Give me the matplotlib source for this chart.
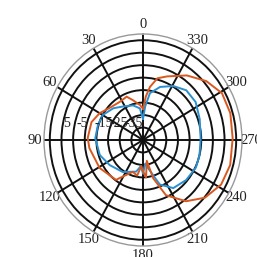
import numpy as np
import matplotlib
matplotlib.use('Agg')
import matplotlib.pyplot as plt

##########################################################
#          Pattern data (dB)       #
##########################################################

# orange trace: angle (deg, counter-clockwise from top) and level
orange_ang = [0, 5, 15, 22, 33, 48, 60, 72, 88, 98, 121, 144, 161, 170, 176, 180,
              185, 191, 196, 204, 217, 229, 242, 255, 271, 286, 299, 311, 324, 338, 346, 352, 356]
orange_db = [-20, -17, -12, -7.5, -8.5, -6.5, -2, 1.5, 2.5, 1.5, -1.5, -5.5, -18, -16, -24, -20,
             -15, -28, -13, 3.5, 16.5, 25.5, 31, 32.5, 32, 33, 32.5, 27, 19, 10, 6, -2, -10]

# blue trace
blue_ang = [0, 6, 17, 33, 45, 60, 73, 88, 108, 125, 146, 167, 175, 180, 186, 191,
            202, 214, 229, 244, 256, 271, 289, 304, 317, 329, 341, 351, 356]
blue_db = [-28, -19.5, -16, -13, -9, -5, -4.5, -4, -6, -10, -14, -19, -24, -18, -26, -22,
           -6.5, 1.5, 4, 5.5, 5, 4.5, 6.5, 9.5, 9.5, 5.5, 0, -7, -18]

ring_vals = [-35, -25, -15, -5, 5, 15, 25, 35]
ring_labels = ['5', '-5', '-15', '-25', '-35']
# where each label sits along the 90 deg spoke (radial value)
label_pos = [21, 7, -11, -24, -37]
angle_ticks = list(range(0, 360, 30))

##########################################################
#                      Polar plot                        #
##########################################################

fig = plt.figure(figsize=(2.57, 2.57), dpi=100)
ax = fig.add_axes([44/257, 11/257, 198/257, 212/257], projection='polar')
ax.set_aspect('auto')
ax.set_theta_zero_location('N')
ax.set_theta_direction(1)
ax.set_rlim(-45, 40)

# close the loops
oa = np.deg2rad(orange_ang + [orange_ang[0]])
od = orange_db + [orange_db[0]]
ba = np.deg2rad(blue_ang + [blue_ang[0]])
bd = blue_db + [blue_db[0]]

ax.plot(ba, bd, color='#2a8fd0', lw=1.4, zorder=3)
ax.plot(oa, od, color='#d9581f', lw=1.4, zorder=3)

ax.set_rticks(ring_vals)
ax.set_yticklabels([])
ax.set_thetagrids(angle_ticks, [str(a) for a in angle_ticks],
                  fontsize=10.5, family='Liberation Serif', color='#222222')
ax.tick_params(axis='x', pad=-4)
ax.grid(True, color='#111111', lw=1.4)
ax.spines['polar'].set_color('#999999')
ax.spines['polar'].set_linewidth(1.0)

# radial labels just above the 90 deg spoke
for txt, p in zip(ring_labels, label_pos):
    ax.annotate(txt, xy=(np.deg2rad(90), p), xytext=(0, 12),
                textcoords='offset points', ha='center', va='center',
                fontsize=10, family='Liberation Serif', color='#222222', zorder=4)

fig.savefig('out.png', dpi=100)
